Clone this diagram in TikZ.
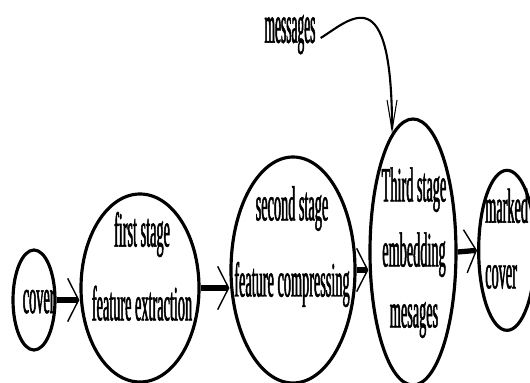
\documentclass[tikz,border=0pt]{standalone}
\usepackage{fontspec}
\newfontfamily\narrowserif[FakeStretch=0.29, FakeBold=1]{Liberation Serif}
\newfontfamily\narrowerserif[FakeStretch=0.25, FakeBold=1]{Liberation Serif}
\usetikzlibrary{arrows.meta, shapes.geometric}

\begin{document}
\begin{tikzpicture}[font=\narrowserif\fontsize{42}{48}\selectfont,
    stage/.style={draw, ellipse, line width=2.7pt, inner sep=0pt},
    words/.style={inner sep=0pt, align=center},
    flow/.style={line width=4.5pt,
      -{Straight Barb[length=0.33cm, width=1.3cm, line width=1.2pt]}}]
  \useasboundingbox (0,0) rectangle (15.9,11.49);

  %% the stages
  \node[stage, minimum width=1.26cm, minimum height=3cm] (cover) at (1.02,2.49) {};
  \node[stage, minimum width=3.54cm, minimum height=5.64cm] (first) at (4.2,2.85) {};
  \node[stage, minimum width=3.72cm, minimum height=6.78cm] (second) at (8.79,3.39) {};
  \node[stage, minimum width=2.58cm, minimum height=7.98cm] (third) at (12.39,3.93) {};
  \node[stage, minimum width=1.7cm, minimum height=4.8cm] (marked) at (15.21,3.98) {};

  %% their texts
  \node[words] (covertxt) at (1.16,2.44) {cover};
  \node[words] (firsttxt) at (4.26,3.50) {first stage\\[15pt]feature extraction};
  \node[words] (secondtxt) at (8.76,4.09) {second stage\\[17pt]feature compressing};
  \node[words] (thirdtxt) at (12.42,3.91) {Third stage\\[7.5pt]embedding\\[4pt]mesages};
  \node[words, align=left, anchor=west] (markedtxt) at (14.55,4.33) {marked\\[8pt]cover};

  %% the message input
  \node[words, font=\narrowerserif\fontsize{46}{52}\selectfont] (msg) at (8.7,10.45) {messages};

  %% flow between the stages
  \draw[flow] (cover.east) -- (cover.east -| first.west);
  \draw[flow] (first.east) -- (first.east -| second.west);
  \draw[flow] (second.east) -- (second.east -| third.west);
  \draw[flow] (third.east) -- (marked.west);
  \draw[line width=1.8pt, -{Straight Barb[length=0.9cm, width=0.3cm, line width=0.9pt]}]
    ([xshift=0.15cm, yshift=-0.1cm]msg.east) .. controls (10.5,10.89) and (11.76,12.24) .. (third.100);
\end{tikzpicture}
\end{document}
